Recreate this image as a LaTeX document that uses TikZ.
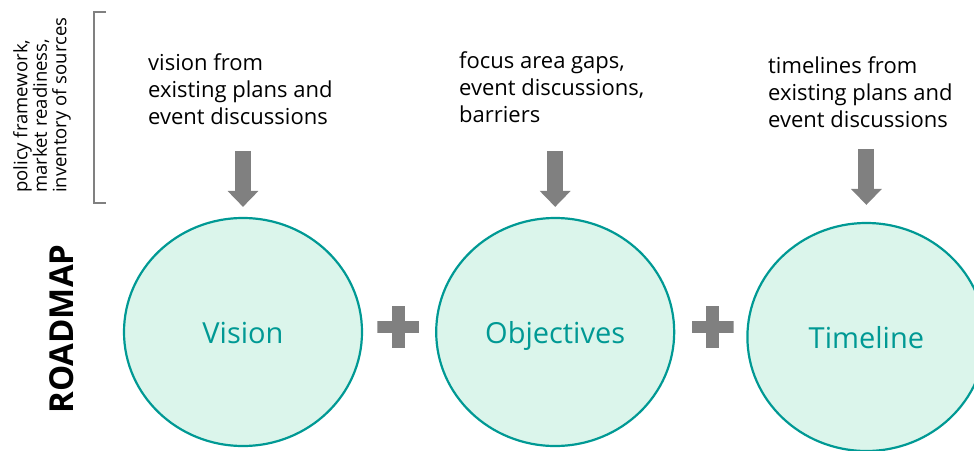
\documentclass[tikz,border=0pt]{standalone}
\usepackage{fontspec}
\setmainfont{Open Sans}
\usepackage{tikz}
\usetikzlibrary{
	positioning,
	arrows.meta,
	shapes.geometric
}
\definecolor{roadteal}{RGB}{0,153,148}
\definecolor{roadmint}{RGB}{219,245,235}
\definecolor{roadgray}{RGB}{128,128,128}

\begin{document}
\begin{tikzpicture}[x=1pt,y=-1pt,
		stage/.style={ellipse,draw=roadteal,line width=2.2pt,fill=roadmint,
			minimum width=238pt,minimum height=228pt,inner sep=0pt,
			text=roadteal,text height=23pt,text depth=0pt,
			font=\fontsize{29}{34}\selectfont},
		source/.style={align=left,anchor=north west,inner sep=0pt,
			font=\fontsize{22}{27}\selectfont},
		feed/.style={roadgray,line width=16pt,-{Triangle[length=16pt,width=30pt]}},
		plussign/.style={minimum size=42pt,inner sep=0pt,
			path picture={
				\fill[roadgray] ([xshift=-6.5pt]path picture bounding box.north)
					rectangle ([xshift=6.5pt]path picture bounding box.south);
				\fill[roadgray] ([yshift=6pt]path picture bounding box.west)
					rectangle ([yshift=-6pt]path picture bounding box.east);
			}}
	]
		\useasboundingbox (0,0) rectangle (974,450);

		% the three parts of the roadmap
		\node [stage]                                     (vision)     at (243,332) {Vision};
		\node [stage,right=72pt of vision]                (objectives) {Objectives};
		\node [stage,right=71pt of objectives,yshift=-5pt] (timeline)   {Timeline};

		\node [plussign,right=14pt of vision,yshift=5pt]     (plusA) {};
		\node [plussign,right=16pt of objectives,yshift=5pt] (plusB) {};

		% inputs
		\node [source] (visionsrc)    at (148,53.5) {vision from\\existing plans and\\event discussions};
		\node [source] (objectivesrc) at (459,51.5) {focus area gaps,\\event discussions,\\barriers};
		\node [source] (timelinesrc)  at (768,56.5) {timelines from\\existing plans and\\event discussions};

		\draw [feed] ([yshift=66pt]vision.north)     -- ([yshift=10pt]vision.north);
		\draw [feed] ([yshift=66pt]objectives.north) -- ([yshift=10pt]objectives.north);
		\draw [feed] ([yshift=73pt]timeline.north)   -- ([yshift=17pt]timeline.north);

		% side labels
		\node [rotate=90,anchor=north west,inner sep=0pt,align=left,
			font=\fontsize{18.5}{19.5}\selectfont] (basis) at (13,193)
			{policy framework,\\market readiness,\\inventory of sources};
		\draw [roadgray,line width=1.5pt] (106,12) -| (94,203) -- (106,203);

		\node [rotate=90,font=\fontsize{33}{40}\selectfont\bfseries] (roadmap) at (62,329) {ROADMAP};
\end{tikzpicture}
\end{document}
